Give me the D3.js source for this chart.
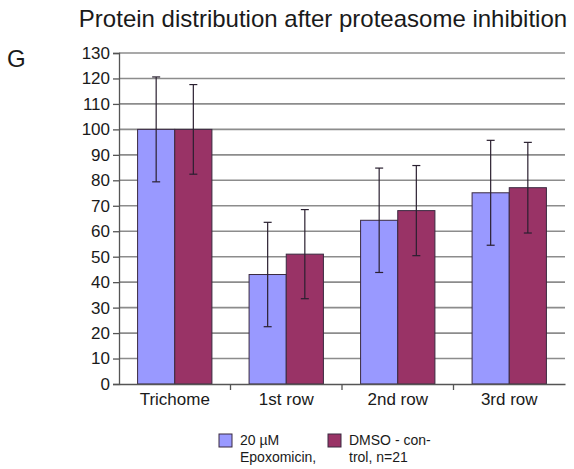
<!DOCTYPE html>
<html>
<head>
<meta charset="utf-8">
<script src="https://cdn.jsdelivr.net/npm/d3@7/dist/d3.min.js"></script>
<style>
  body { margin: 0; background: #fff; }
  text { font-family: "Liberation Sans", Arial, sans-serif; }
</style>
</head>
<body>
<svg id="chart"></svg>
<script>
// data
var categories = ["Trichome", "1st row", "2nd row", "3rd row"];
var seriesNames = ["20 \u00b5M Epoxomicin,", "DMSO - control, n=21"];
var epoxValues = [100, 43, 64.3, 75.1];
var epoxErrors = [20.6, 20.5, 20.5, 20.6];
var dmsoValues = [100, 51, 68.1, 77.1];
var dmsoErrors = [17.6, 17.5, 17.7, 17.8];
var yTicks = d3.range(0, 131, 10);
var colors = ["#9999ff", "#993366"];

var svgWidth = 574, svgHeight = 469;
var margin = { top: 53, right: 9, bottom: 85, left: 119 };
var width = svgWidth - margin.left - margin.right;
var height = svgHeight - margin.top - margin.bottom;

var svg = d3.select('#chart')
    .attr("width", svgWidth)
    .attr("height", svgHeight);

// title and panel letter
svg.append("text")
    .attr("x", 323)
    .attr("y", 27)
    .attr("text-anchor", "middle")
    .attr("font-size", 24)
    .attr("fill", "#1a1a1a")
    .text("Protein distribution after proteasome inhibition");

svg.append("text")
    .attr("x", 7)
    .attr("y", 67)
    .attr("font-size", 24)
    .attr("fill", "#1a1a1a")
    .text("G");

var g = svg.append("g")
    .attr("transform", "translate(" + margin.left + "," + margin.top + ")");

var x0 = d3.scaleBand()
    .domain(categories)
    .range([0, width])
    .padding(0);

var x1 = d3.scaleBand()
    .domain([0, 1])
    .range([0, x0.bandwidth()])
    .paddingInner(0)
    .paddingOuter(0.5);

var y = d3.scaleLinear()
    .domain([0, 130])
    .range([height, 0]);

// gridlines
g.append("g")
    .selectAll("line")
    .data(yTicks.filter(function(d) { return d > 0; }))
    .enter()
    .append("line")
    .attr("x1", 0)
    .attr("x2", width)
    .attr("y1", function(d) { return y(d); })
    .attr("y2", function(d) { return y(d); })
    .attr("stroke", "#8c8c8c")
    .attr("stroke-width", 1.6);

// y axis
var yAxis = g.append("g")
    .call(d3.axisLeft(y).tickValues(yTicks).tickSize(6).tickPadding(3));
yAxis.select(".domain").attr("stroke", "#555").attr("stroke-width", 1.3);
yAxis.selectAll(".tick line").attr("stroke", "#555").attr("stroke-width", 1.3);
yAxis.selectAll(".tick text")
    .attr("font-size", 17)
    .attr("fill", "#1a1a1a")
    .style("font-family", "'Liberation Sans', Arial, sans-serif");

// bars
var rows = categories.map(function(c, i) {
    return [
        { cat: c, s: 0, value: epoxValues[i], err: epoxErrors[i] },
        { cat: c, s: 1, value: dmsoValues[i], err: dmsoErrors[i] }
    ];
});

var groups = g.selectAll(".group")
    .data(rows)
    .enter()
    .append("g")
    .attr("class", "group")
    .attr("transform", function(d) { return "translate(" + x0(d[0].cat) + ",0)"; });

groups.selectAll("rect")
    .data(function(d) { return d; })
    .enter()
    .append("rect")
    .attr("x", function(d) { return x1(d.s); })
    .attr("width", x1.bandwidth())
    .attr("y", function(d) { return y(d.value); })
    .attr("height", function(d) { return height - y(d.value); })
    .attr("fill", function(d) { return colors[d.s]; })
    .attr("stroke", "#3a2a40")
    .attr("stroke-width", 1);

// error bars
var capW = 4;
var err = groups.selectAll(".err")
    .data(function(d) { return d; })
    .enter()
    .append("g")
    .attr("class", "err")
    .attr("stroke", "#2a2030")
    .attr("stroke-width", 1.2);

err.append("line")
    .attr("x1", function(d) { return x1(d.s) + x1.bandwidth() / 2; })
    .attr("x2", function(d) { return x1(d.s) + x1.bandwidth() / 2; })
    .attr("y1", function(d) { return y(d.value + d.err); })
    .attr("y2", function(d) { return y(d.value - d.err); });

[1, -1].forEach(function(sign) {
    err.append("line")
        .attr("x1", function(d) { return x1(d.s) + x1.bandwidth() / 2 - capW; })
        .attr("x2", function(d) { return x1(d.s) + x1.bandwidth() / 2 + capW; })
        .attr("y1", function(d) { return y(d.value + sign * d.err); })
        .attr("y2", function(d) { return y(d.value + sign * d.err); });
});

// x axis: labels centred, ticks between categories
var xAxis = g.append("g")
    .attr("transform", "translate(0," + height + ")")
    .call(d3.axisBottom(x0).tickSize(0).tickPadding(9));
xAxis.select(".domain").attr("stroke", "#555").attr("stroke-width", 1.3);
xAxis.selectAll(".tick text")
    .attr("font-size", 17)
    .attr("fill", "#1a1a1a")
    .style("font-family", "'Liberation Sans', Arial, sans-serif");

xAxis.selectAll(".sep")
    .data(categories.slice(1))
    .enter()
    .append("line")
    .attr("class", "sep")
    .attr("x1", function(d) { return x0(d); })
    .attr("x2", function(d) { return x0(d); })
    .attr("y1", 0)
    .attr("y2", 6)
    .attr("stroke", "#555")
    .attr("stroke-width", 1.3);

// legend
var legendLines = [["20 \u00b5M", "Epoxomicin,"], ["DMSO - con-", "trol, n=21"]];
var legend = svg.append("g")
    .selectAll("g")
    .data(seriesNames)
    .enter()
    .append("g")
    .attr("transform", function(d, i) { return "translate(" + (219 + i * 109) + ",434)"; });

legend.append("rect")
    .attr("width", 13)
    .attr("height", 13)
    .attr("fill", function(d, i) { return colors[i]; })
    .attr("stroke", "#3a2a40")
    .attr("stroke-width", 1);

legend.append("text")
    .attr("x", 21)
    .attr("y", 11)
    .attr("font-size", 14)
    .attr("fill", "#1a1a1a")
    .selectAll("tspan")
    .data(function(d, i) { return legendLines[i]; })
    .enter()
    .append("tspan")
    .attr("x", 21)
    .attr("dy", function(d, j) { return j === 0 ? 0 : 17; })
    .text(function(d) { return d; });
</script>
</body>
</html>
